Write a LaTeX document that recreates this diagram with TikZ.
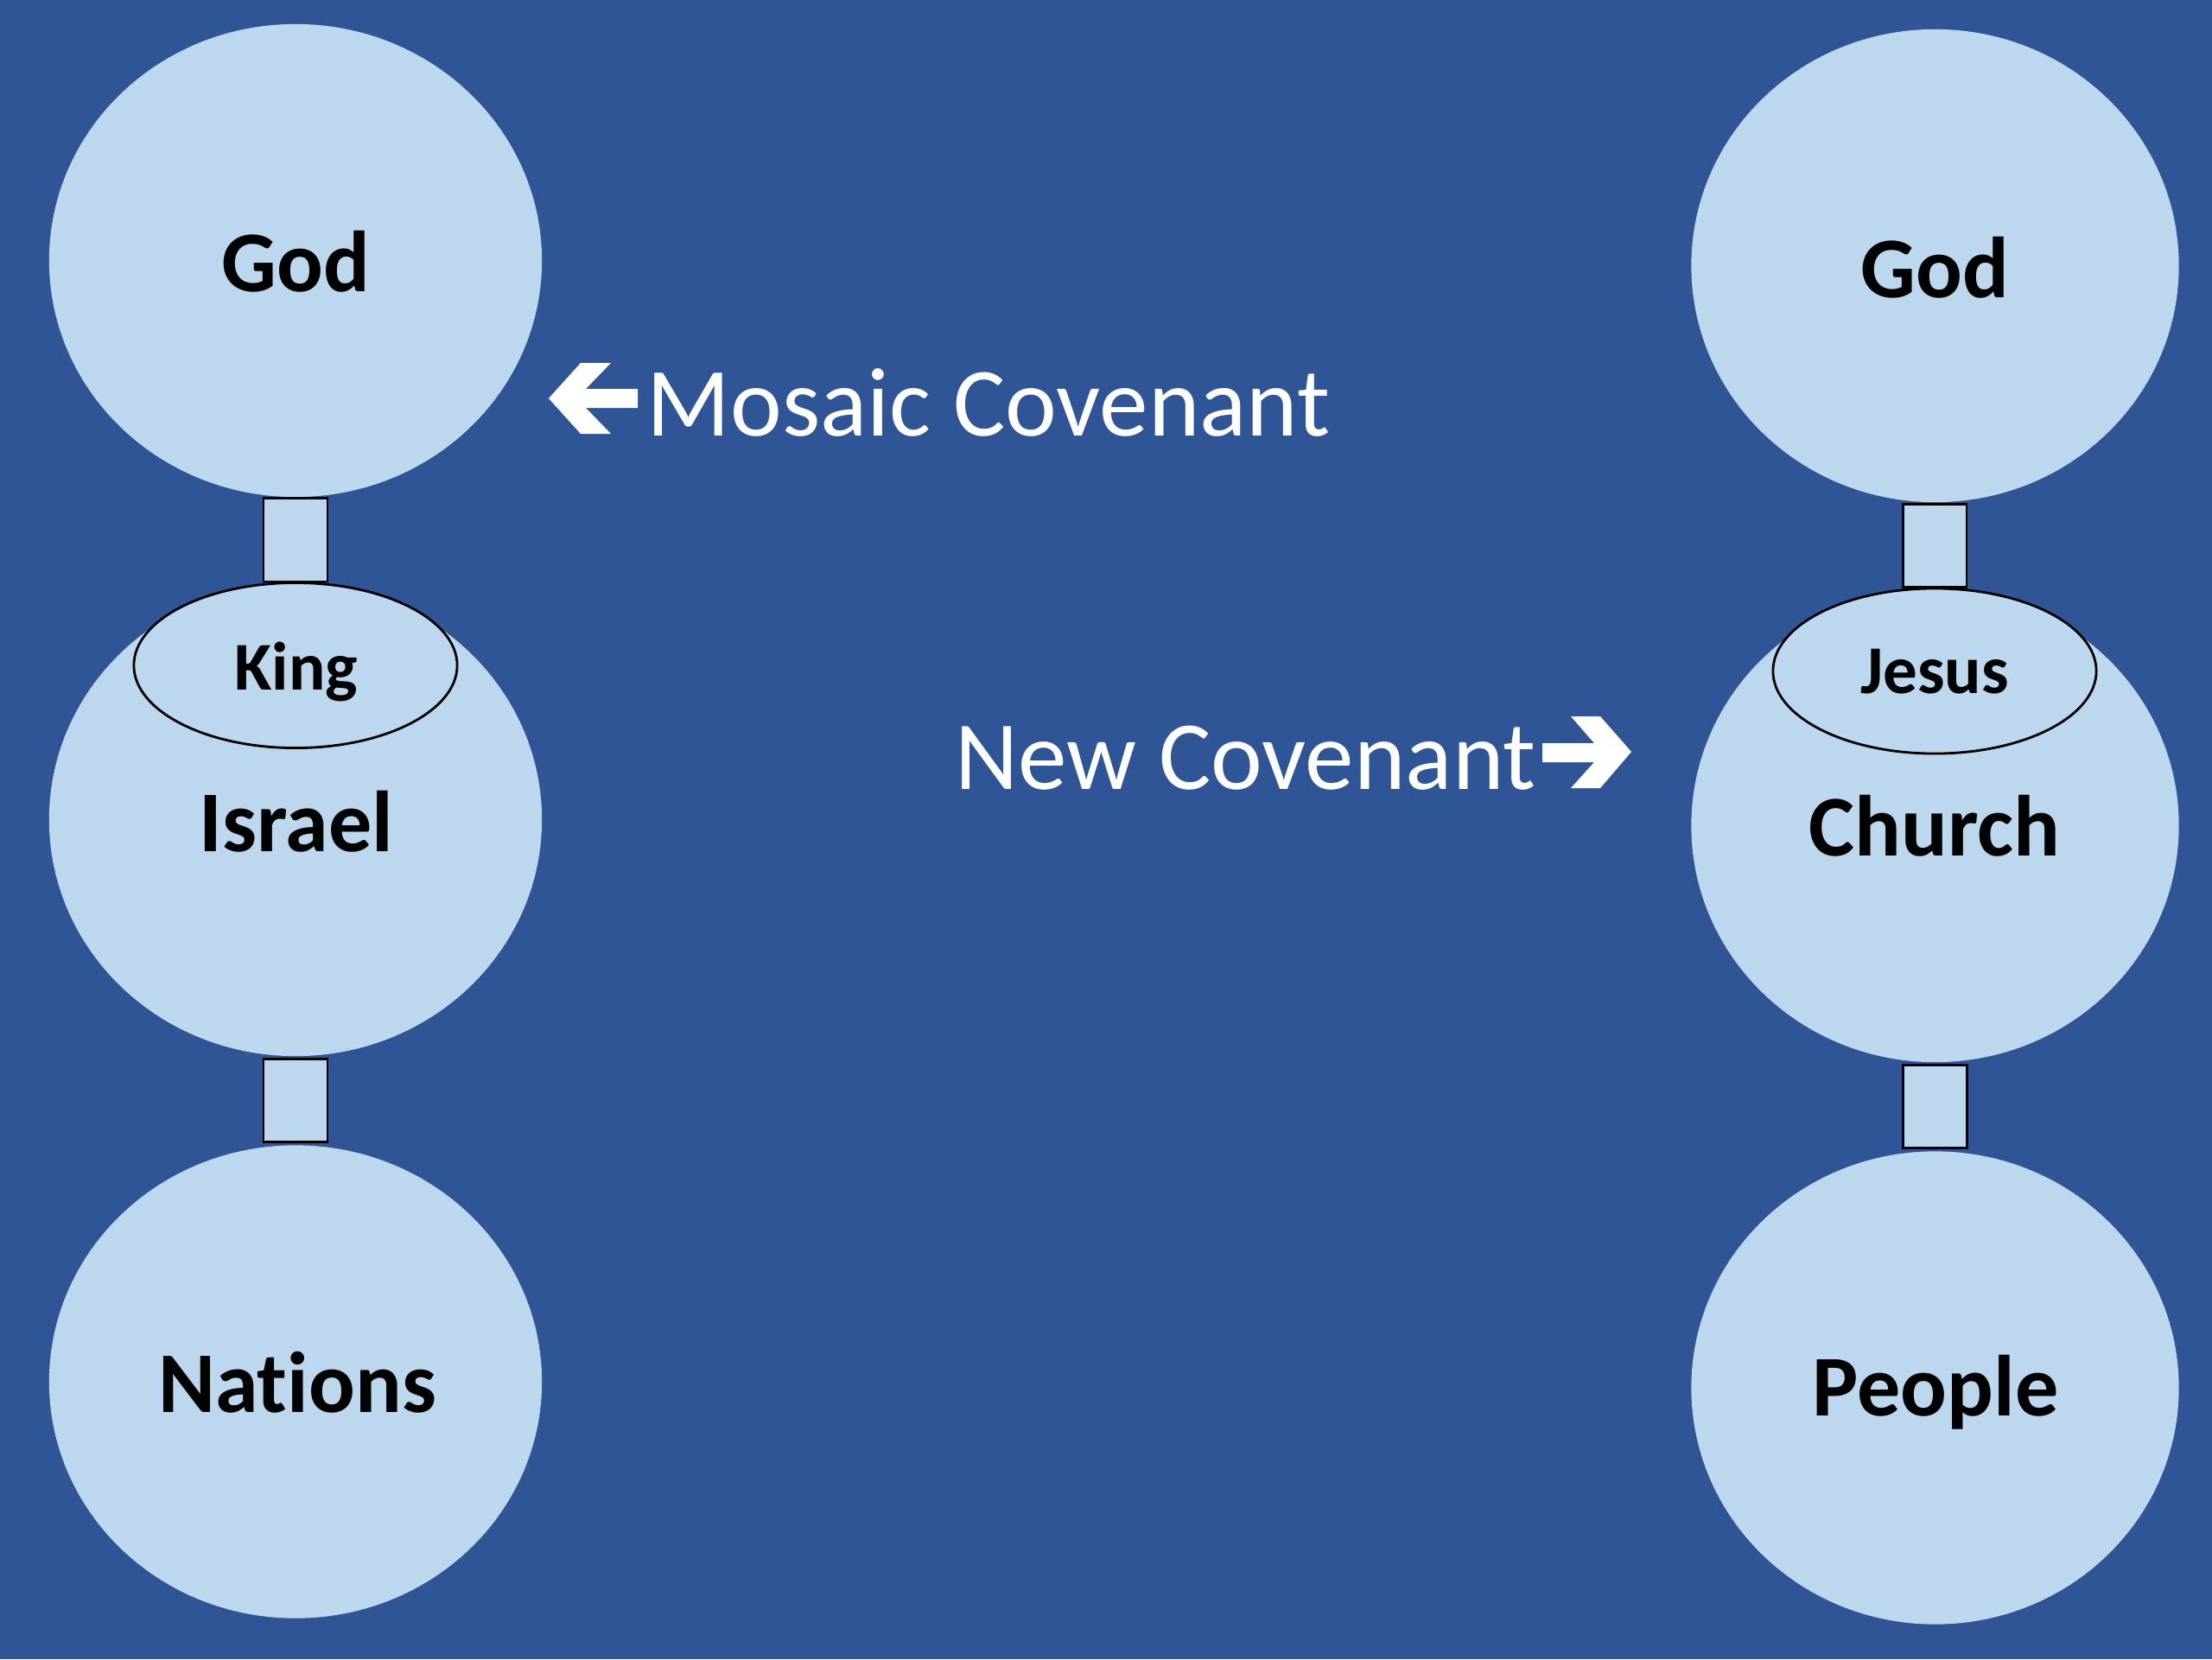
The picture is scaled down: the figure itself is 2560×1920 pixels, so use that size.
\documentclass[tikz,border=0pt]{standalone}
\usepackage{fontspec}
\setmainfont{Carlito}[Ligatures={NoCommon,NoRare}, Contextuals={NoAlternate}]
\usetikzlibrary{shapes.geometric,calc}
\definecolor{bgblue}{HTML}{2F5597}
\definecolor{lightblue}{HTML}{BDD7EE}
\begin{document}
\begin{tikzpicture}[x=0.01cm,y=-0.01cm,
  circL/.style={ellipse, fill=lightblue, draw=none, inner sep=0, minimum width=5.70cm, minimum height=5.47cm},
  circR/.style={ellipse, fill=lightblue, draw=none, inner sep=0, minimum width=5.64cm, minimum height=5.47cm},
  oval/.style={ellipse, fill=lightblue, draw=black, line width=0.8pt, inner sep=0, minimum width=3.74cm, minimum height=1.91cm},
  linkbox/.style={fill=lightblue, draw=black, line width=0.8pt},
  biglbl/.style={font=\bfseries\fontsize{28.5}{30}\selectfont, anchor=base, inner sep=0},
  smalllbl/.style={font=\bfseries\fontsize{22.5}{24}\selectfont, anchor=base, inner sep=0},
  covlbl/.style={font=\fontsize{32.2}{34}\selectfont, text=white, anchor=base west, inner sep=0},
  covarrow/.style={fill=white, draw=none}
]
\fill[bgblue] (0,0) rectangle (2560,1920);
\useasboundingbox (0,0) rectangle (2560,1920);

% left column
\node[circL] (godL) at (342,301.5) {};
\node[circL] (israel) at (342,948.5) {};
\node[circL] (nations) at (342,1599) {};
\node[oval] (king) at (342,770) {};
\draw[linkbox] ($(godL.south)+(-37,1)$) rectangle ($(king.north)+(37,0)$);
\draw[linkbox] ($(israel.south)+(-37,3)$) rectangle ($(nations.north)+(37,-3)$);

\node[biglbl] (tGodL) at (342,337) {God};
\node[smalllbl] (tKing) at (343,798) {King};
\node[biglbl] (tIsrael) at (343,985) {Israel};
\node[biglbl] (tNations) at (344,1634) {Nat\kern0pt ions};

% right column
\node[circR] (godR) at (2239.5,307.5) {};
\node[circR] (church) at (2239.5,955.5) {};
\node[circR] (people) at (2239.5,1606) {};
\node[oval] (jesus) at (2239,776.5) {};
\draw[linkbox] ($(godR.south)+(-37,2)$) rectangle ($(jesus.north)+(37,0)$);
\draw[linkbox] ($(church.south)+(-37,3)$) rectangle ($(people.north)+(37,-3)$);

\node[biglbl] (tGodR) at (2239,344) {God};
\node[smalllbl] (tJesus) at (2239,802) {Jesus};
\node[biglbl] (tChurch) at (2239,990) {Church};
\node[biglbl] (tPeople) at (2240,1638) {People};

% covenant labels
\fill[covarrow] (635,461) -- (672,420) -- (707,420) -- (678,450) -- (738,450) -- (738,472) -- (678,472) -- (707,502) -- (672,502) -- cycle;
\node[covlbl] (mosaic) at (748,504) {Mosaic Covenant};

\node[covlbl] (newcov) at (1105,913) {New Covenant};
\fill[covarrow] (1888,870) -- (1852,829) -- (1818,829) -- (1845,860) -- (1785,860) -- (1785,882) -- (1845,882) -- (1818,912) -- (1852,912) -- cycle;
\end{tikzpicture}
\end{document}
